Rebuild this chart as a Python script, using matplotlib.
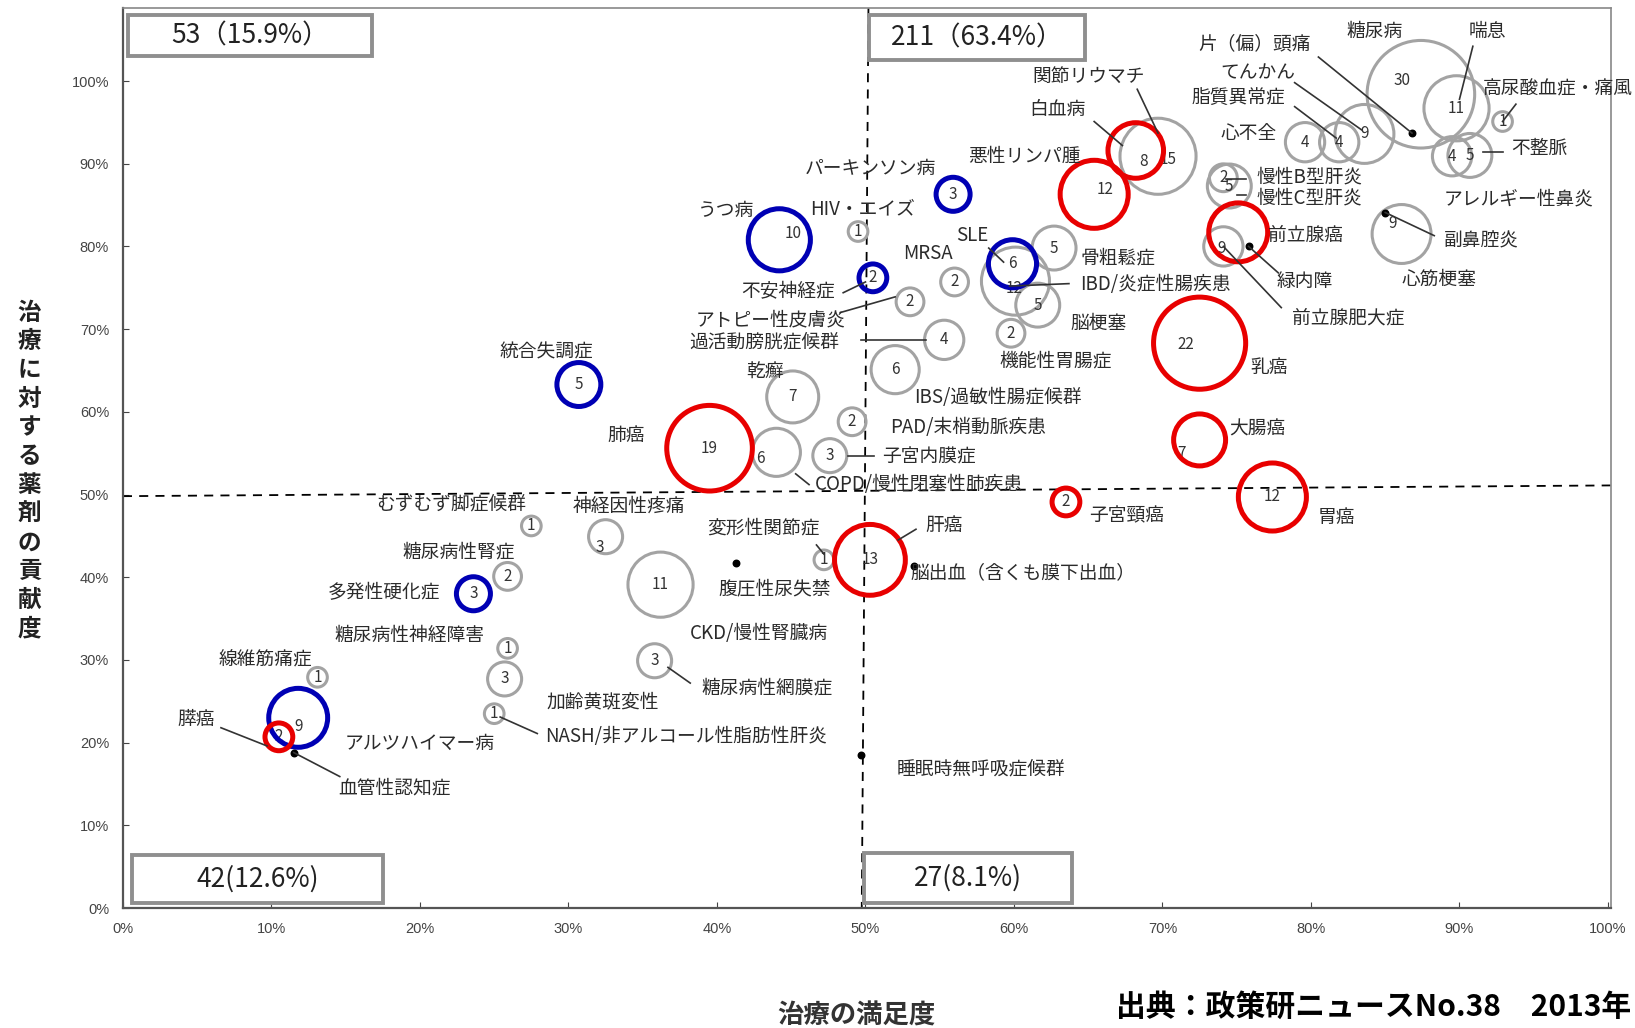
import matplotlib.pyplot as plt
from matplotlib.patches import Rectangle

plt.rcParams['font.family'] = ['Noto Sans CJK JP', 'DejaVu Sans']

# 疾患ごとのデータ: 治療の満足度(%), 薬剤の貢献度(%), 数値, 色分け
names = ['糖尿病', '喘息', '高尿酸血症・痛風', 'アレルギー性鼻炎', '不整脈', '片（偏）頭痛',
         'てんかん', '脂質異常症', '心不全', '関節リウマチ', '白血病', '悪性リンパ腫',
         '慢性B型肝炎', '慢性C型肝炎', '前立腺癌', '前立腺肥大症', '緑内障', '副鼻腔炎',
         '心筋梗塞', 'パーキンソン病', 'うつ病', 'HIV・エイズ', '不安神経症', 'アトピー性皮膚炎',
         'MRSA', 'SLE', 'IBD/炎症性腸疾患', '骨粗鬆症', '脳梗塞', '機能性胃腸症',
         '過活動膀胱症候群', 'IBS/過敏性腸症候群', '乾癬', '統合失調症', '肺癌',
         'COPD/慢性閉塞性肺疾患', 'PAD/末梢動脈疾患', '子宮内膜症', '乳癌', '大腸癌', '胃癌',
         '子宮頸癌', 'むずむず脚症候群', '神経因性疼痛', '糖尿病性腎症', '多発性硬化症',
         'CKD/慢性腎臓病', '変形性関節症', '肝癌', '脳出血（含くも膜下出血）', '腹圧性尿失禁',
         '糖尿病性網膜症', '糖尿病性神経障害', '加齢黄斑変性', 'NASH/非アルコール性脂肪性肝炎',
         '線維筋痛症', 'アルツハイマー病', '膵癌', '血管性認知症', '睡眠時無呼吸症候群']
satisfaction = [87.4, 89.8, 92.9, 89.5, 90.7, 86.8, 83.6, 81.9, 79.6, 69.7, 68.2, 65.4,
                74.1, 74.5, 75.1, 74.1, 75.8, 85.0, 86.1, 55.9, 44.2, 49.5, 50.5, 53.0,
                56.0, 59.9, 60.1, 62.7, 61.6, 59.8, 55.3, 52.0, 45.1, 30.7, 39.5, 44.0,
                49.1, 47.6, 72.5, 72.5, 77.4, 63.5, 27.5, 32.5, 25.9, 23.6, 36.2, 47.2,
                50.3, 53.3, 41.3, 35.8, 25.9, 25.7, 25.0, 13.1, 11.8, 10.5, 11.5, 49.7]
contribution = [98.4, 96.7, 95.1, 90.9, 91.0, 93.7, 93.6, 92.6, 92.6, 90.9, 91.6, 86.3,
                88.3, 87.3, 81.7, 80.0, 80.0, 84.1, 81.5, 86.3, 80.8, 81.8, 76.2, 73.3,
                75.7, 77.9, 75.8, 79.8, 72.9, 69.5, 68.7, 65.1, 61.8, 63.3, 55.6, 55.1,
                58.8, 54.7, 68.3, 56.6, 49.7, 49.1, 46.2, 44.9, 40.1, 38.0, 39.1, 42.1,
                42.1, 41.4, 41.7, 29.9, 31.4, 27.7, 23.5, 27.9, 23.0, 20.7, 18.8, 18.5]
counts = [30, 11, 1, 4, 5, 0, 9, 4, 4, 15, 8, 12,
          2, 5, 9, 4, 0, 0, 9, 3, 10, 1, 2, 2,
          2, 6, 12, 5, 5, 2, 4, 6, 7, 5, 19, 6,
          2, 3, 22, 7, 12, 2, 1, 3, 2, 3, 11, 1,
          13, 0, 0, 3, 1, 3, 1, 1, 9, 2, 0, 0]
groups = ['g', 'g', 'g', 'g', 'g', 'g', 'g', 'g', 'g', 'g', 'r', 'r',
          'g', 'g', 'r', 'g', 'g', 'g', 'g', 'b', 'b', 'g', 'b', 'g',
          'g', 'b', 'g', 'g', 'g', 'g', 'g', 'g', 'g', 'b', 'r', 'g',
          'g', 'g', 'r', 'r', 'r', 'r', 'g', 'g', 'g', 'b', 'g', 'g',
          'r', 'g', 'g', 'g', 'g', 'g', 'g', 'g', 'b', 'r', 'g', 'g']

quadrant_texts = ['53（15.9%）', '211（63.4%）', '42(12.6%)', '27(8.1%)']
ticks = [0, 10, 20, 30, 40, 50, 60, 70, 80, 90, 100]
tick_labels = [f'{t}%' for t in ticks]

# ---- layout: label positions and leader lines (data coords) ----
label_pos = {
    '糖尿病': (84.3, 106.0), '喘息': (91.9, 106.0), '高尿酸血症・痛風': (96.6, 99.0),
    '不整脈': (95.4, 91.8), 'アレルギー性鼻炎': (94.0, 85.7), '片（偏）頭痛': (76.2, 104.5),
    'てんかん': (76.4, 101.0), '脂質異常症': (75.1, 97.9), '心不全': (75.8, 93.7),
    '関節リウマチ': (65.0, 100.6), '白血病': (62.9, 96.6), '悪性リンパ腫': (60.7, 90.9),
    '慢性B型肝炎': (79.9, 88.4), '慢性C型肝炎': (79.9, 85.9), '前立腺癌': (79.6, 81.3),
    '緑内障': (79.6, 75.8), '前立腺肥大症': (82.5, 71.4), '副鼻腔炎': (91.5, 80.7),
    '心筋梗塞': (88.6, 76.0), 'パーキンソン病': (50.3, 89.4), 'うつ病': (40.6, 84.4),
    'HIV・エイズ': (49.8, 84.5), '不安神経症': (44.8, 74.5), 'アトピー性皮膚炎': (43.6, 71.1),
    '過活動膀胱症候群': (43.2, 68.4), 'MRSA': (54.2, 79.1), 'SLE': (57.2, 81.3),
    '骨粗鬆症': (67.0, 78.6), 'IBD/炎症性腸疾患': (69.5, 75.4), '脳梗塞': (65.7, 70.7),
    '機能性胃腸症': (62.8, 66.1), 'IBS/過敏性腸症候群': (58.9, 61.7), '乾癬': (43.2, 64.8),
    '統合失調症': (28.5, 67.2), '肺癌': (33.9, 57.1), 'PAD/末梢動脈疾患': (56.9, 58.1),
    '子宮内膜症': (54.3, 54.5), 'COPD/慢性閉塞性肺疾患': (53.6, 51.2), '乳癌': (77.2, 65.3),
    '大腸癌': (76.4, 57.9), '胃癌': (81.7, 47.2), '子宮頸癌': (67.6, 47.4),
    'むずむず脚症候群': (22.1, 48.8), '神経因性疼痛': (34.1, 48.6), '糖尿病性腎症': (22.6, 43.0),
    '多発性硬化症': (17.6, 38.2), 'CKD/慢性腎臓病': (42.8, 33.2), '変形性関節症': (43.1, 45.9),
    '腹圧性尿失禁': (43.9, 38.6), '肝癌': (55.3, 46.2), '脳出血（含くも膜下出血）': (60.6, 40.5),
    '糖尿病性網膜症': (43.4, 26.6), '糖尿病性神経障害': (19.3, 33.0), '加齢黄斑変性': (32.3, 25.0),
    'NASH/非アルコール性脂肪性肝炎': (37.9, 20.8), '線維筋痛症': (9.6, 30.0),
    'アルツハイマー病': (20.0, 19.9), '膵癌': (4.9, 22.8), '血管性認知症': (18.3, 14.5),
    '睡眠時無呼吸症候群': (57.8, 16.8),
}
leaders = {
    '喘息': ((90.9, 104.2), (90.0, 97.8)),
    '高尿酸血症・痛風': ((93.8, 97.2), (92.9, 95.1)),
    '不整脈': ((91.6, 91.4), (92.9, 91.4)),
    '片（偏）頭痛': ((80.5, 102.9), (86.8, 93.7)),
    'てんかん': ((78.9, 99.8), (83.4, 94.1)),
    '脂質異常症': ((78.9, 96.9), (81.7, 93.1)),
    '関節リウマチ': ((68.3, 99.0), (69.7, 93.7)),
    '白血病': ((65.4, 95.1), (67.3, 92.2)),
    '慢性B型肝炎': ((74.3, 88.2), (75.6, 88.2)),
    '慢性C型肝炎': ((75.0, 86.2), (75.6, 86.2)),
    '緑内障': ((75.8, 80.0), (77.8, 76.8)),
    '前立腺肥大症': ((74.1, 80.0), (78.0, 72.6)),
    '副鼻腔炎': ((85.0, 84.1), (88.3, 81.3)),
    '不安神経症': ((48.5, 74.4), (50.0, 75.7)),
    'アトピー性皮膚炎': ((48.3, 72.0), (52.0, 73.9)),
    '過活動膀胱症候群': ((49.7, 68.7), (54.1, 68.7)),
    'SLE': ((58.3, 79.8), (59.3, 78.1)),
    'IBD/炎症性腸疾患': ((63.7, 75.5), (59.7, 75.2)),
    '子宮内膜症': ((48.8, 54.7), (50.6, 54.7)),
    'COPD/慢性閉塞性肺疾患': ((45.3, 52.5), (46.2, 51.2)),
    '変形性関節症': ((46.7, 43.9), (47.2, 42.8)),
    '肝癌': ((53.4, 45.8), (52.2, 44.5)),
    '糖尿病性網膜症': ((36.7, 29.1), (38.2, 27.2)),
    'NASH/非アルコール性脂肪性肝炎': ((25.4, 23.1), (27.9, 21.1)),
    '膵癌': ((6.6, 21.8), (9.7, 19.6)),
    '血管性認知症': ((11.5, 18.8), (14.6, 15.9)),
}
num_pos = {
    '糖尿病': (86.1, 100.1), '関節リウマチ': (70.4, 90.5), '白血病': (68.7, 90.3),
    '悪性リンパ腫': (66.1, 86.9), '前立腺癌': (74.0, 79.8), '前立腺肥大症': None,
    'COPD/慢性閉塞性肺疾患': (42.9, 54.4), '神経因性疼痛': (32.1, 43.6), '大腸癌': (71.3, 55.0),
    'IBD/炎症性腸疾患': (60.0, 74.9), 'アルツハイマー病': (11.8, 21.9), '乳癌': (71.6, 68.1),
    'うつ病': (45.1, 81.6), '心筋梗塞': (85.5, 82.8),
}

edge = {'g': '#a3a3a3', 'r': '#e80000', 'b': '#0000b4'}
lw = {'g': 2.2, 'r': 3.6, 'b': 3.6}
zo = {'g': 3, 'r': 5, 'b': 5}

fig = plt.figure(figsize=(16.35, 10.28), dpi=100)
ax = fig.add_axes([0.0752, 0.1167, 0.9101, 0.8753])
ax.set_xlim(0, 100.2)
ax.set_ylim(0, 108.8)

for name, x, y, n, g in zip(names, satisfaction, contribution, counts, groups):
    if n == 0:
        ax.scatter(x, y, s=22, color='black', zorder=6)
        continue
    ax.scatter(x, y, s=200 * n, facecolors='none', edgecolors=edge[g], linewidths=lw[g], zorder=zo[g])
    pos = num_pos.get(name, (x, y))
    if pos is not None:
        ax.text(pos[0], pos[1], str(n), ha='center', va='center', fontsize=11, color='#333333', zorder=4)

for name, (lx, ly) in label_pos.items():
    ax.text(lx, ly, name, ha='center', va='center', fontsize=13.5, color='#2b2b2b', zorder=7)
for name, (p0, p1) in leaders.items():
    ax.plot([p0[0], p1[0]], [p0[1], p1[1]], color='#333333', lw=1.2, zorder=6)

# quadrant dividers
ax.plot([0, 100.2], [49.8, 51.1], color='black', lw=1.3, dashes=(5, 4), zorder=2)
ax.plot([50.2, 49.75], [108.8, 0], color='black', lw=1.3, dashes=(5, 4), zorder=2)

# quadrant count boxes
boxes = [(0.35, 103.0, 16.45, 5.0), (50.25, 102.5, 14.55, 5.5),
         (0.63, 0.63, 16.9, 5.8), (49.9, 0.63, 14.0, 6.0)]
for (bx, by, bw, bh), txt in zip(boxes, quadrant_texts):
    ax.add_patch(Rectangle((bx, by), bw, bh, facecolor='white', edgecolor='#8f8f8f', lw=2.8, zorder=8))
    ax.text(bx + bw / 2, by + bh / 2, txt, ha='center', va='center', fontsize=19, color='#222222', zorder=9)

ax.set_xticks(ticks)
ax.set_xticklabels(tick_labels)
ax.set_yticks(ticks)
ax.set_yticklabels(tick_labels)
ax.tick_params(direction='in', length=4, labelsize=10.5, colors='#444444', pad=10)
for lab in ax.get_xticklabels() + ax.get_yticklabels():
    lab.set_family('Liberation Sans')
for side in ['left', 'bottom']:
    ax.spines[side].set_color('#555555')
    ax.spines[side].set_linewidth(1.6)
for side in ['top', 'right']:
    ax.spines[side].set_color('#888888')
    ax.spines[side].set_linewidth(1.2)

fig.text(0.524, 0.012, '治療の満足度', ha='center', va='center', fontsize=19, color='#333333', weight='bold')
fig.text(0.018, 0.542, '\n'.join('治療に対する薬剤の貢献度'), ha='center', va='center',
         fontsize=17, color='#222222', weight='bold', linespacing=1.25)
fig.text(0.998, 0.021, '出典：政策研ニュースNo.38　2013年', ha='right', va='center',
         fontsize=21.5, color='black', weight='bold')

fig.savefig('out.png', dpi=100)
